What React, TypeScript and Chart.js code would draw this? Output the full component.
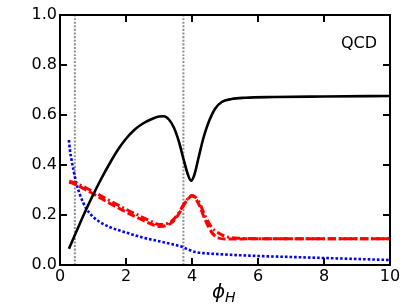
import React, { useEffect, useRef } from "react";
import { Chart, registerables } from "chart.js";

Chart.register(...registerables);

// ---- data ----
const blackPhi = [0.27, 0.5, 0.75, 1.0, 1.25, 1.5, 1.75, 2.0, 2.25, 2.5, 2.75, 3.0, 3.15, 3.3, 3.45, 3.6, 3.75, 3.88, 3.97, 4.07, 4.2, 4.35, 4.5, 4.7, 4.9, 5.2, 5.6, 6.5, 8.0, 10.0];
const blackVal = [0.065, 0.135, 0.21, 0.28, 0.345, 0.405, 0.46, 0.505, 0.54, 0.565, 0.582, 0.594, 0.595, 0.582, 0.55, 0.495, 0.42, 0.36, 0.337, 0.36, 0.43, 0.51, 0.57, 0.625, 0.652, 0.664, 0.669, 0.672, 0.674, 0.676];

const redDashPhi = [0.28, 0.5, 0.75, 1.0, 1.5, 2.0, 2.5, 2.8, 3.0, 3.2, 3.4, 3.6, 3.8, 4.0, 4.2, 4.4, 4.6, 4.8, 5.0, 6.0, 10.0];
const redDashVal = [0.332, 0.32, 0.303, 0.285, 0.247, 0.212, 0.18, 0.162, 0.154, 0.157, 0.171, 0.204, 0.25, 0.276, 0.245, 0.18, 0.13, 0.108, 0.104, 0.105, 0.105];

const redDotDashPhi = [0.28, 0.5, 0.75, 1.0, 1.5, 2.0, 2.5, 2.8, 3.0, 3.2, 3.4, 3.6, 3.8, 4.0, 4.2, 4.4, 4.6, 4.8, 5.0, 5.3, 5.6, 6.0, 10.0];
const redDotDashVal = [0.335, 0.326, 0.311, 0.294, 0.258, 0.223, 0.191, 0.172, 0.162, 0.164, 0.177, 0.209, 0.253, 0.278, 0.255, 0.195, 0.15, 0.128, 0.115, 0.108, 0.106, 0.105, 0.105];

const bluePhi = [0.27, 0.3, 0.35, 0.4, 0.5, 0.6, 0.7, 0.8, 1.0, 1.21, 1.5, 2.0, 2.5, 3.0, 3.5, 3.7, 3.9, 4.1, 4.4, 5.0, 6.0, 7.0, 8.0, 9.0, 10.0];
const blueVal = [0.5, 0.46, 0.42, 0.385, 0.325, 0.283, 0.25, 0.225, 0.193, 0.172, 0.152, 0.13, 0.11, 0.095, 0.08, 0.073, 0.061, 0.052, 0.047, 0.042, 0.036, 0.032, 0.028, 0.024, 0.02];

const vLinePhi = [0.45, 3.74];

const xTicks = [0, 2, 4, 6, 8, 10];
const yTicks = [0, 0.2, 0.4, 0.6, 0.8, 1.0];
const panelLabel = "QCD";
const xLabelMain = "ϕ";
const xLabelSub = "H";

const pts = (xs: number[], ys: number[]) => xs.map((x, i) => ({ x, y: ys[i] }));

const FONT = '"DejaVu Sans", sans-serif';

const decor = {
  id: "decor",
  afterDatasetsDraw(chart: any) {
    const { ctx, chartArea: a, scales } = chart;
    const sx = scales.x;
    const sy = scales.y;
    ctx.save();
    ctx.strokeStyle = "#000";
    ctx.lineWidth = 2;
    ctx.strokeRect(a.left, a.top, a.right - a.left, a.bottom - a.top);
    ctx.beginPath();
    for (const v of xTicks) {
      const px = Math.round(sx.getPixelForValue(v));
      ctx.moveTo(px, a.bottom);
      ctx.lineTo(px, a.bottom - 7);
      ctx.moveTo(px, a.top);
      ctx.lineTo(px, a.top + 7);
    }
    for (const v of yTicks) {
      const py = Math.round(sy.getPixelForValue(v));
      ctx.moveTo(a.left, py);
      ctx.lineTo(a.left + 7, py);
      ctx.moveTo(a.right, py);
      ctx.lineTo(a.right - 7, py);
    }
    ctx.stroke();

    ctx.fillStyle = "#000";
    ctx.font = `16px ${FONT}`;
    ctx.textAlign = "right";
    ctx.textBaseline = "alphabetic";
    ctx.fillText(panelLabel, a.right - 13, 48);

    ctx.textAlign = "left";
    ctx.font = `italic 20px ${FONT}`;
    ctx.fillText(xLabelMain, 212, 298);
    ctx.font = `italic 14px ${FONT}`;
    ctx.fillText(xLabelSub, 225, 302);
    ctx.restore();
  },
};

export default function App() {
  const ref = useRef<HTMLCanvasElement | null>(null);
  useEffect(() => {
    if (!ref.current) return;
    const lineDs = (data: any, color: string, dash: number[], width: number) => ({
      data,
      borderColor: color,
      backgroundColor: color,
      borderDash: dash,
      borderWidth: width,
      pointRadius: 0,
      showLine: true,
      fill: false,
      cubicInterpolationMode: "monotone" as const,
      borderCapStyle: "butt" as const,
    });
    const chart = new Chart(ref.current, {
      type: "scatter",
      data: {
        datasets: [
          lineDs(pts(blackPhi, blackVal), "#000000", [], 2.6),
          lineDs(pts(redDashPhi, redDashVal), "#ff0000", [8, 3], 3),
          lineDs(pts(redDotDashPhi, redDotDashVal), "#ff0000", [8, 3, 2, 3], 3),
          lineDs(pts(bluePhi, blueVal), "#0000ff", [2.6, 2], 2.6),
          ...vLinePhi.map((p) => lineDs([{ x: p, y: 0 }, { x: p, y: 1 }], "#909090", [2, 1.6], 2)),
        ],
      },
      options: {
        responsive: false,
        animation: false,
        events: [],
        layout: { padding: { top: 15, right: 21, left: 0, bottom: 0 } },
        plugins: { legend: { display: false }, tooltip: { enabled: false } },
        scales: {
          x: {
            type: "linear",
            min: 0,
            max: 10,
            grid: { display: false, drawTicks: false, tickLength: 0 },
            border: { display: false },
            afterBuildTicks: (s: any) => {
              s.ticks = xTicks.map((v) => ({ value: v }));
            },
            afterFit: (s: any) => {
              s.height = 43;
            },
            ticks: {
              padding: 2,
              color: "#000",
              font: { family: FONT, size: 16 },
              callback: (v: any) => String(v),
            },
          },
          y: {
            type: "linear",
            min: 0,
            max: 1,
            grid: { display: false, drawTicks: false, tickLength: 0 },
            border: { display: false },
            afterBuildTicks: (s: any) => {
              s.ticks = yTicks.map((v) => ({ value: v }));
            },
            afterFit: (s: any) => {
              s.width = 60;
            },
            ticks: {
              padding: 3,
              color: "#000",
              font: { family: FONT, size: 16 },
              callback: (v: any) => Number(v).toFixed(1),
            },
          },
        },
      },
      plugins: [decor],
    });
    return () => chart.destroy();
  }, []);
  return (
    <div style={{ position: "fixed", left: 0, top: 0, width: 411, height: 308, background: "#fff" }}>
      <canvas ref={ref} width={411} height={308} style={{ display: "block" }} />
    </div>
  );
}
